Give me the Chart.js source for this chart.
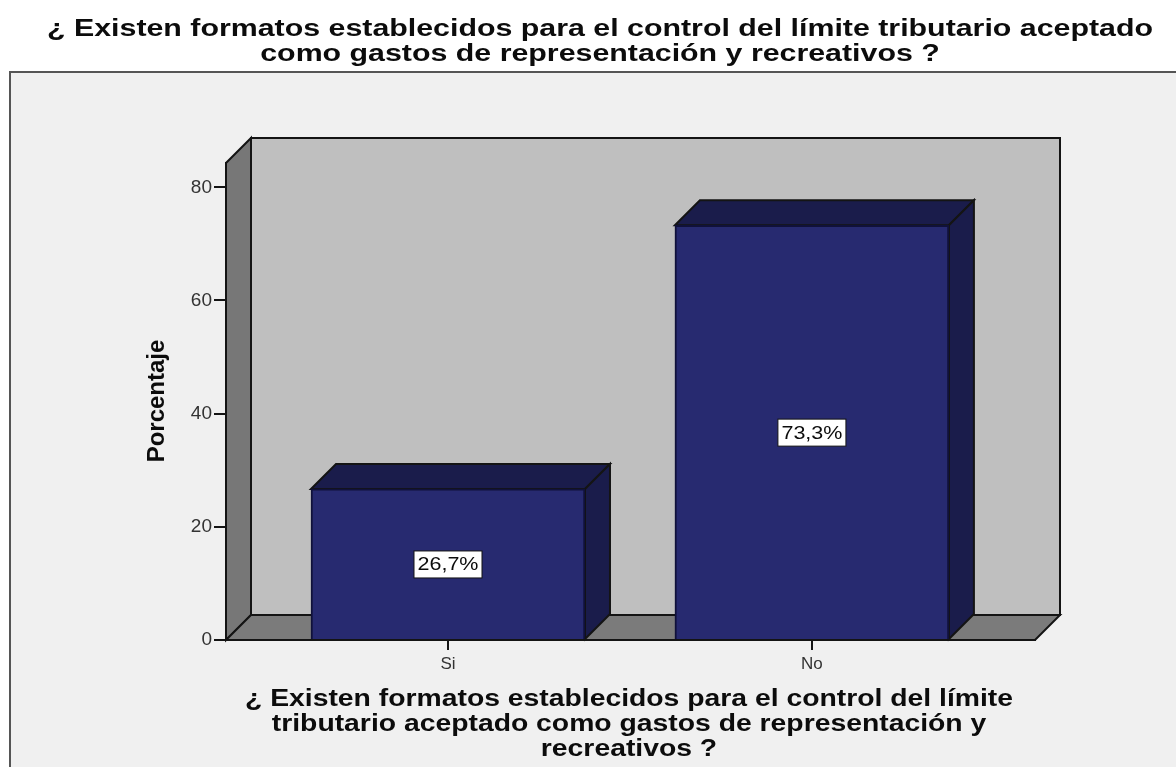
<!DOCTYPE html>
<html>
    <head>
        <meta charset="UTF-8" />
        <title> Chart </title>
        <style type="text/css">
            body { margin: 0; background: #ffffff; }
            canvas { display: block; filter: blur(0.4px); }
        </style>
    </head>
    <body>
        <canvas id="myChart" width="1176" height="767"></canvas>

        <script src="https://cdn.jsdelivr.net/npm/chart.js"></script>
        <script>
        //data
        const categories = ['Si', 'No'];
        const percentages = [26.7, 73.3];
        const yTicks = [0, 20, 40, 60, 80];
        const titleLines = [
            '¿ Existen formatos establecidos para el control del límite tributario aceptado',
            'como gastos de representación y recreativos ?'
        ];
        const xTitleLines = [
            '¿ Existen formatos establecidos para el control del límite',
            'tributario aceptado como gastos de representación y',
            'recreativos ?'
        ];
        const yTitle = 'Porcentaje';

        const depth = 25;
        const ink = '#141414';

        function poly(ctx, pts, fill) {
            ctx.beginPath();
            pts.forEach((p, i) => i ? ctx.lineTo(p[0], p[1]) : ctx.moveTo(p[0], p[1]));
            ctx.closePath();
            ctx.fillStyle = fill;
            ctx.fill();
            ctx.lineWidth = 2;
            ctx.strokeStyle = ink;
            ctx.stroke();
        }

        // the source picture is stretched sideways, so text is scaled to the measured width
        function stretchedLines(ctx, lines, font, cx, ys, firstWidth) {
            ctx.save();
            ctx.font = font;
            ctx.fillStyle = '#0c0c0c';
            ctx.textAlign = 'center';
            ctx.textBaseline = 'middle';
            const sx = firstWidth / ctx.measureText(lines[0]).width;
            lines.forEach((line, i) => {
                ctx.save();
                ctx.translate(cx, ys[i]);
                ctx.scale(sx, 1);
                ctx.fillText(line, 0, 0);
                ctx.restore();
            });
            ctx.restore();
        }

        const scene3d = {
            id: 'scene3d',
            beforeDraw(chart) {
                const ctx = chart.ctx;
                const a = chart.chartArea;
                ctx.save();
                ctx.fillStyle = '#ffffff';
                ctx.fillRect(0, 0, chart.width, chart.height);
                ctx.fillStyle = '#f0f0f0';
                ctx.fillRect(10, 72, chart.width - 10, chart.height - 72);
                ctx.lineWidth = 2;
                ctx.strokeStyle = '#555555';
                ctx.beginPath();
                ctx.moveTo(10, chart.height);
                ctx.lineTo(10, 72);
                ctx.lineTo(chart.width, 72);
                ctx.stroke();

                poly(ctx, [[a.left + depth, a.top - depth], [a.right + depth, a.top - depth],
                    [a.right + depth, a.bottom - depth], [a.left + depth, a.bottom - depth]], '#bfbfbf');
                poly(ctx, [[a.left, a.top], [a.left + depth, a.top - depth],
                    [a.left + depth, a.bottom - depth], [a.left, a.bottom]], '#777777');
                poly(ctx, [[a.left, a.bottom], [a.left + depth, a.bottom - depth],
                    [a.right + depth, a.bottom - depth], [a.right, a.bottom]], '#7b7b7b');
                ctx.restore();

                stretchedLines(ctx, titleLines, 'bold 23px "Liberation Sans"', 600, [30, 55], 1106);
                stretchedLines(ctx, xTitleLines, 'bold 23px "Liberation Sans"', 629, [700, 725, 750], 768);

                ctx.save();
                ctx.translate(157, 401);
                ctx.rotate(-Math.PI / 2);
                ctx.font = 'bold 24px "Liberation Sans"';
                ctx.fillStyle = '#0c0c0c';
                ctx.textAlign = 'center';
                ctx.textBaseline = 'middle';
                ctx.fillText(yTitle, 0, 0);
                ctx.restore();
            },
            beforeDatasetsDraw(chart) {
                const ctx = chart.ctx;
                ctx.save();
                chart.getDatasetMeta(0).data.forEach(bar => {
                    const l = bar.x - bar.width / 2;
                    const r = bar.x + bar.width / 2;
                    poly(ctx, [[l, bar.y], [l + depth, bar.y - depth], [r + depth, bar.y - depth], [r, bar.y]], '#1a1c4b');
                    poly(ctx, [[r, bar.y], [r + depth, bar.y - depth], [r + depth, bar.base - depth], [r, bar.base]], '#1a1c4b');
                });
                ctx.restore();
            },
            afterDatasetsDraw(chart) {
                const ctx = chart.ctx;
                ctx.save();
                chart.getDatasetMeta(0).data.forEach((bar, i) => {
                    const cy = (bar.y + bar.base) / 2;
                    ctx.fillStyle = '#ffffff';
                    ctx.fillRect(bar.x - 34, cy - 13, 68, 27);
                    ctx.lineWidth = 1;
                    ctx.strokeStyle = ink;
                    ctx.strokeRect(bar.x - 34, cy - 13, 68, 27);
                    stretchedLines(ctx, [percentages[i].toFixed(1).replace('.', ',') + '%'],
                        '18px "Liberation Sans"', bar.x, [cy + 1.5], 61);
                });
                ctx.restore();
            }
        };

        //config
        const config = {
            type: 'bar',
            data: {
                datasets: [{
                    data: percentages.map((v, i) => ({ x: i, y: v })),
                    backgroundColor: '#272a70',
                    borderColor: '#10113a',
                    borderWidth: 2,
                    barThickness: 274
                }]
            },
            options: {
                responsive: false,
                animation: false,
                layout: { padding: { left: 180, top: 163, right: 141, bottom: 87 } },
                plugins: { legend: { display: false }, tooltip: { enabled: false } },
                scales: {
                    x: {
                        type: 'linear',
                        offset: false,
                        min: -0.61,
                        max: 1.613,
                        afterFit(scale) { scale.height = 40; },
                        afterBuildTicks(scale) { scale.ticks = categories.map((c, i) => ({ value: i })); },
                        border: { color: ink, width: 2 },
                        grid: { offset: false, drawOnChartArea: false, color: ink, lineWidth: 2, tickLength: 10 },
                        ticks: {
                            color: '#333333',
                            padding: 4,
                            maxRotation: 0,
                            autoSkip: false,
                            font: { family: '"Liberation Sans"', size: 17 },
                            callback: v => categories[v]
                        }
                    },
                    y: {
                        min: 0,
                        max: 84.3,
                        afterFit(scale) { scale.width = 46; },
                        afterBuildTicks(scale) { scale.ticks = yTicks.map(v => ({ value: v })); },
                        border: { color: ink, width: 2 },
                        grid: { drawOnChartArea: false, color: ink, lineWidth: 2, tickLength: 12 },
                        ticks: {
                            color: '#333333',
                            padding: 2,
                            font: { family: '"Liberation Sans"', size: 19 }
                        }
                    }
                }
            },
            plugins: [scene3d]
        };

        //render init
        const myChart = new Chart(document.getElementById('myChart'), config);
        </script>
    </body>
</html>
